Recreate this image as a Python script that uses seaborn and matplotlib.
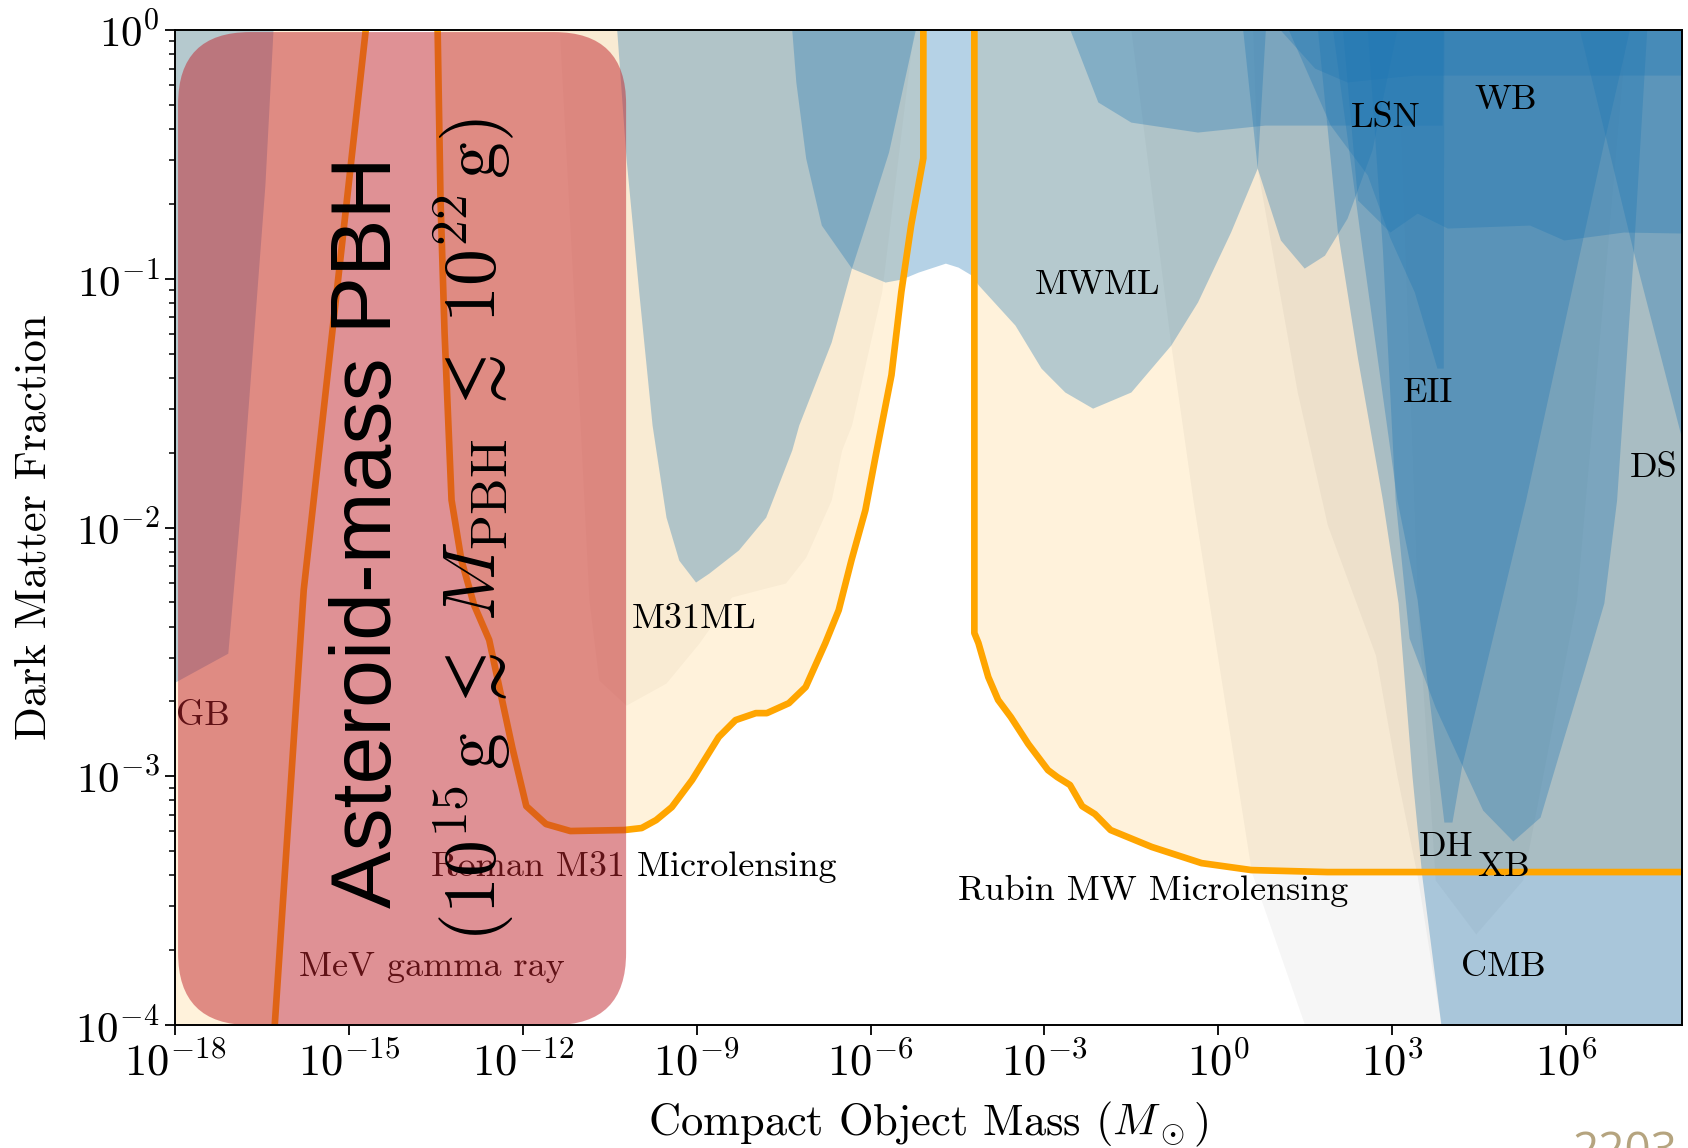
import numpy as np
import matplotlib
matplotlib.use("Agg")
import matplotlib.pyplot as plt
import seaborn as sns
from matplotlib.patches import FancyBboxPatch
from matplotlib.ticker import NullLocator, LogLocator, NullFormatter

# ---------------- data: log10(M / Msun) and log10(f_DM) ----------------
# projected sensitivities (orange lines)
roman_logm = [-13.47, -13.42, -13.35, -13.23, -13.06, -12.84, -12.58, -12.41, -12.18, -11.94, -11.60, -11.18,
              -10.25, -9.95, -9.70, -9.43, -9.08, -8.62, -8.33, -7.98, -7.79, -7.41, -7.12, -6.78, -6.55,
              -6.33, -6.09, -5.92, -5.64, -5.47, -5.30, -5.09, -5.09]
roman_logf = [0.0, -0.683, -1.218, -1.889, -2.131, -2.312, -2.452, -2.637, -2.886, -3.120, -3.192, -3.220,
              -3.216, -3.208, -3.176, -3.124, -3.015, -2.842, -2.774, -2.746, -2.746, -2.706, -2.641, -2.464, -2.332,
              -2.131, -1.930, -1.721, -1.387, -1.053, -0.784, -0.515, 0.0]
rubin_logm = [-4.21, -4.21, -4.14, -3.97, -3.80, -3.58, -3.28, -2.94, -2.78, -2.56, -2.35, -2.13, -1.86,
              -1.15, -0.29, 0.57, 1.88, 8.0]
rubin_logf = [0.0, -2.424, -2.464, -2.601, -2.693, -2.762, -2.870, -2.975, -3.003, -3.035, -3.120, -3.152,
              -3.216, -3.284, -3.349, -3.377, -3.385, -3.385]
mev_logm = [-16.37, -16.28, -15.78, -14.71]
mev_logf = [-4.3, -4.0, -2.251, 0.0]

# extra faint projection layer around M31ML
beige2_logm = [-11.37, -11.12, -10.86, -10.69, -10.22, -9.53, -8.96, -8.40, -7.81, -7.47, -7.12, -6.68,
               -6.50, -6.33, -5.81, -5.26]
beige2_logf = [0.0, -1.085, -2.291, -2.613, -2.714, -2.625, -2.464, -2.279, -2.243, -2.223, -2.119, -1.889,
               -1.688, -1.588, -1.053, 0.0]

# existing constraints (lower boundaries; regions extend up to f = 1)
evap_logm = [-18.0, -17.09, -16.86, -16.45, -16.31]
evap_logf = [-2.621, -2.505, -1.889, -0.623, 0.0]
hsc_logm = [-10.38, -10.22, -10.00, -9.77, -9.53, -9.31, -9.02, -8.79, -8.28, -7.81, -7.36, -7.24, -6.68,
            -6.33, -6.09, -5.69, -5.23]
hsc_logf = [0.0, -0.515, -1.053, -1.588, -1.958, -2.131, -2.219, -2.183, -2.090, -1.958, -1.688, -1.588,
            -1.254, -0.957, -0.784, -0.490, 0.0]
mwml_logm = [-7.36, -7.29, -7.12, -6.85, -6.33, -5.75, -5.47, -5.18, -4.71, -4.49, -4.26, -4.14, -3.51,
             -3.06, -2.65, -2.17, -1.51, -0.82, -0.36, 0.21, 0.67, 0.81]
mwml_logf = [0.0, -0.209, -0.515, -0.784, -0.957, -1.013, -1.001, -0.973, -0.937, -0.953, -0.985, -1.025,
             -1.186, -1.359, -1.455, -1.520, -1.455, -1.266, -1.093, -0.812, -0.555, 0.0]
u2_logm = [0.42, 0.67, 1.07, 1.48, 1.83, 2.22, 2.65, 3.08]
u2_logf = [0.0, -0.555, -0.844, -0.957, -0.905, -0.756, -0.482, 0.0]
lsn_logm = [-2.56, -2.08, -1.51, -0.36, 0.80, 3.86, 3.88]
lsn_logf = [0.0, -0.289, -0.370, -0.410, -0.382, -0.382, 0.0]
band_logm = [1.07, 1.66, 2.22, 3.38, 6.23, 8.0]
band_logf = [0.0, -0.153, -0.209, -0.181, -0.181, -0.181]
eii_logm = [1.21, 1.93, 2.57, 2.96, 3.38, 3.77, 3.88, 3.89]
eii_logf = [0.0, -0.382, -0.583, -0.836, -1.053, -1.359, -1.359, 0.0]
wb_logm = [2.14, 2.40, 2.96, 3.43, 3.95, 5.37, 5.96, 6.99, 8.0]
wb_logf = [0.0, -0.683, -0.812, -0.736, -0.796, -0.784, -0.844, -0.812, -0.816]
dh_logm = [1.97, 2.48, 3.08, 3.43, 3.89, 4.03, 4.20, 5.30, 6.65, 7.09]
dh_logf = [0.0, -0.884, -1.889, -2.291, -3.184, -3.184, -2.955, -1.889, -0.450, 0.0]
xb_logm = [2.57, 2.83, 3.05, 3.29, 3.74, 4.20, 4.56, 5.08, 5.55, 5.94, 6.30, 6.65, 6.87, 7.16, 7.39]
xb_logf = [0.0, -0.884, -1.889, -2.444, -2.722, -2.955, -3.136, -3.260, -3.164, -2.858, -2.581, -2.303,
           -1.889, -0.892, 0.0]
ds_logm = [6.23, 7.16, 8.0]
ds_logf = [0.0, -0.892, -1.648]
cmb_logm = [1.71, 2.05, 2.40, 2.83, 3.10, 3.34, 3.51, 3.84, 4.0, 8.0]
cmb_logf = [0.0, -0.804, -1.319, -1.889, -2.303, -2.999, -3.401, -4.0, -4.3, -4.3]

# faint grey projection layers
g1_logm = [-1.51, -0.82, -0.44, 0.57, 1.50, 1.71, 8.0]
g1_logf = [0.0, -1.266, -1.889, -3.385, -4.008, -4.3, -4.3]
g2_logm = [0.59, 0.67, 1.36, 1.88, 2.71, 3.08, 3.43, 3.84, 4.0, 8.0]
g2_logf = [0.0, -0.555, -1.455, -1.990, -2.513, -2.999, -3.401, -4.0, -4.3, -4.3]
ghost_logm = [3.08, 3.43, 3.74, 4.44, 5.25, 6.18, 7.04]
ghost_logf = [0.0, -2.291, -3.417, -3.634, -3.417, -2.291, 0.0]

# labels (text, log10 M, log10 f)
label_text = ["GB", "M31ML", "MWML", "LSN", "WB", "EII", "DS", "DH", "XB", "CMB",
              "Roman M31 Microlensing", "Rubin MW Microlensing", "MeV gamma ray"]
label_logm = [-17.98, -10.12, -3.16, 2.29, 4.41, 3.19, 7.09, 3.45, 4.46, 4.19, -13.58, -4.49, -15.87]
label_logf = [-2.758, -2.368, -1.025, -0.354, -0.281, -1.459, -1.761, -3.284, -3.365, -3.767, -3.365, -3.461, -3.767]

xtick_exps = [-18, -15, -12, -9, -6, -3, 0, 3, 6]
ytick_exps = [-4, -3, -2, -1, 0]

# ---------------- style ----------------
sns.set_theme(style="ticks")
plt.rcParams.update({
    "font.family": ["cmr10", "DejaVu Serif"],
    "mathtext.fontset": "cm",
    "axes.unicode_minus": False,
    "axes.formatter.use_mathtext": True,
    "axes.linewidth": 1.4,
    "axes.edgecolor": "black",
    "xtick.color": "black",
    "ytick.color": "black",
    "text.color": "black",
    "axes.labelcolor": "black",
})

BLUE = "#1f77b4"
ORANGE = "#ffa500"
BOXRED = (193 / 255, 37 / 255, 45 / 255)

fig = plt.figure(figsize=(16.88, 11.48), dpi=100)
ax = fig.add_axes([0.1037, 0.1071, 0.8928, 0.8667])
ax.set_xscale("log")
ax.set_yscale("log")


def region(logm, logf, color, alpha, z):
    m = 10.0 ** np.asarray(logm)
    f = 10.0 ** np.asarray(logf)
    ax.fill_between(m, f, 10.0 ** 0.3, color=color, alpha=alpha, lw=0, zorder=z)


# projections (cream)
region([-18.0] + mev_logm, [-5.0] + mev_logf, ORANGE, 0.14, 1.0)
region(roman_logm, roman_logf, ORANGE, 0.14, 1.0)
region(rubin_logm, rubin_logf, ORANGE, 0.14, 1.0)
region(beige2_logm, beige2_logf, "#8a6a40", 0.05, 1.1)
region(g1_logm, g1_logf, "black", 0.035, 1.2)
region(g2_logm, g2_logf, "black", 0.035, 1.2)
region(ghost_logm, ghost_logf, "black", 0.03, 1.2)

# constraints (blue, alpha layered)
for lm, lf in [(evap_logm, evap_logf), (hsc_logm, hsc_logf), (mwml_logm, mwml_logf),
               (u2_logm, u2_logf), (lsn_logm, lsn_logf), (band_logm, band_logf),
               (eii_logm, eii_logf), (wb_logm, wb_logf), (dh_logm, dh_logf),
               (xb_logm, xb_logf), (ds_logm, ds_logf), (cmb_logm, cmb_logf)]:
    region(lm, lf, BLUE, 0.33, 2.0)

# orange sensitivity lines
for lm, lf in [(roman_logm, roman_logf), (rubin_logm, rubin_logf), (mev_logm, mev_logf)]:
    sns.lineplot(x=10.0 ** np.asarray(lm), y=10.0 ** np.asarray(lf), sort=False, estimator=None,
                 color=ORANGE, lw=4.8, ax=ax, zorder=3, legend=False)

for t, lm, lf in zip(label_text, label_logm, label_logf):
    ax.text(10.0 ** lm, 10.0 ** lf, t, fontsize=26, ha="left", va="center", zorder=4, color="black")

ax.set_xlim(1e-18, 1e8)
ax.set_ylim(1e-4, 1)

# highlighted asteroid-mass window
box = FancyBboxPatch((0.002, 0.0), 0.2973, 0.998,
                     boxstyle="round,pad=0,rounding_size=0.0478",
                     transform=ax.transAxes, mutation_aspect=1507 / 995,
                     facecolor=BOXRED, alpha=0.5, edgecolor="none", zorder=6, clip_on=False)
ax.add_patch(box)
ax.text(0.1287, 0.4955, "Asteroid-mass PBH", transform=ax.transAxes, rotation=90,
        ha="center", va="center", fontsize=62, family=["Liberation Sans"], zorder=7)
ax.text(0.1984, 0.4975,
        r"$(10^{15}\,\mathrm{g}\;\lesssim\;M_{\mathrm{PBH}}\;\lesssim\;10^{22}\,\mathrm{g})$",
        transform=ax.transAxes, rotation=90, ha="center", va="center", fontsize=53, zorder=7)

# axes, ticks, labels
ax.set_xticks([10.0 ** e for e in xtick_exps])
ax.set_xticklabels([rf"$10^{{{e}}}$" for e in xtick_exps])
ax.xaxis.set_minor_locator(NullLocator())
ax.set_yticks([10.0 ** e for e in ytick_exps])
ax.set_yticklabels([rf"$10^{{{e}}}$" for e in ytick_exps])
ax.yaxis.set_minor_locator(LogLocator(base=10, subs=np.arange(2, 10)))
ax.yaxis.set_minor_formatter(NullFormatter())
ax.tick_params(which="major", direction="out", length=7, width=1.3, pad=4)
ax.tick_params(axis="x", which="major", labelsize=32, pad=5)
ax.tick_params(axis="y", which="major", labelsize=31)
ax.tick_params(which="minor", direction="out", length=4.3, width=1.1)
for s in ax.spines.values():
    s.set_visible(True)
    s.set_linewidth(1.4)
    s.set_color("black")
    s.set_zorder(8)

ax.set_xlabel(r"Compact Object Mass ($M_\odot$)", fontsize=32, labelpad=11)
ax.set_ylabel("Dark Matter Fraction", fontsize=32, labelpad=15)

fig.text(0.9319, -0.0148, "2203", fontsize=33, color="#b5a47f", family=["Open Sans"],
         ha="left", va="baseline")

fig.savefig("out.png", dpi=100)
